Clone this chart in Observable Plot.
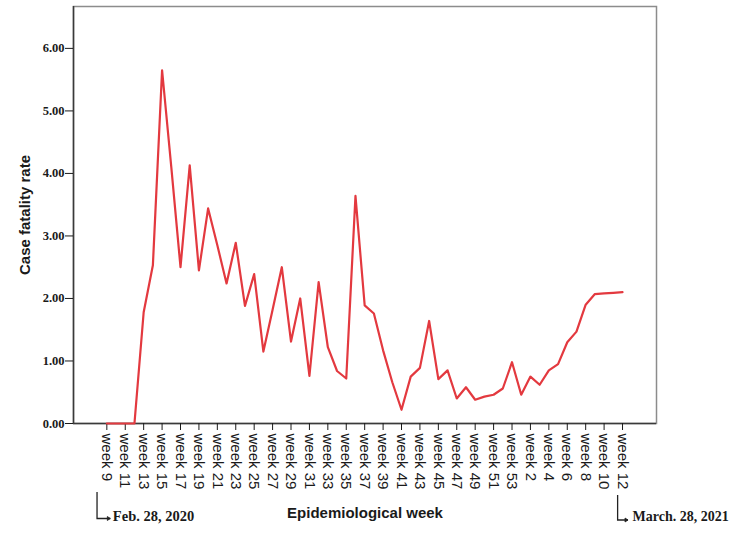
<!DOCTYPE html>
<html><head><meta charset="utf-8">
<script src="https://cdn.jsdelivr.net/npm/d3@7"></script>
<script src="https://cdn.jsdelivr.net/npm/@observablehq/plot@0.6"></script>
<style>body{margin:0;background:#fff}</style>
</head><body><div id="chart"></div>
<script>
const weekLabels = [
  "week 9","week 10","week 11","week 12","week 13","week 14","week 15","week 16","week 17","week 18",
  "week 19","week 20","week 21","week 22","week 23","week 24","week 25","week 26","week 27","week 28",
  "week 29","week 30","week 31","week 32","week 33","week 34","week 35","week 36","week 37","week 38",
  "week 39","week 40","week 41","week 42","week 43","week 44","week 45","week 46","week 47","week 48",
  "week 49","week 50","week 51","week 52","week 53",
  "week 1","week 2","week 3","week 4","week 5","week 6","week 7","week 8","week 9","week 10","week 11","week 12"
];
const cfr = [
  0, 0, 0, 0, 1.78, 2.53, 5.65, 4.10, 2.50, 4.13,
  2.45, 3.44, 2.85, 2.24, 2.89, 1.88, 2.39, 1.15, 1.82, 2.50,
  1.31, 2.00, 0.76, 2.26, 1.22, 0.84, 0.72, 3.64, 1.89, 1.76,
  1.17, 0.66, 0.22, 0.75, 0.89, 1.64, 0.71, 0.85, 0.40, 0.58,
  0.38, 0.43, 0.46, 0.56, 0.98,
  0.46, 0.75, 0.62, 0.85, 0.95, 1.30, 1.47, 1.90, 2.07, 2.08, 2.09, 2.10
];
const yTicks = [0, 1, 2, 3, 4, 5, 6];
const startLabel = "Feb. 28, 2020";
const endLabel = "March. 28, 2021";
const yTitle = "Case fatality rate";
const xTitle = "Epidemiological week";

const data = weekLabels.map((week, i) => ({i, week, cfr: cfr[i]}));
const xTickIdx = d3.range(0, weekLabels.length, 2);
const lastIdx = weekLabels.length - 1;
const sans = "'Liberation Sans', Arial, sans-serif";
const serif = "'Liberation Serif', 'Times New Roman', serif";
const xDomain = [-3.62, 59.69];

const brackets = (index, scales, values, dims) => {
  const x = scales.x;
  const yb = dims.height - dims.marginBottom;
  const g = d3.create("svg:g").attr("fill", "none").attr("stroke", "#222").attr("stroke-width", 1.3);
  const defs = [
    {xi: 0, off: -9.3, y1: 69, y2: 95.5, end: 4},
    {xi: lastIdx, off: -4.4, y1: 72, y2: 97, end: 6}
  ];
  for (const d of defs) {
    const x0 = x(d.xi) + d.off, x1 = x(d.xi) + d.end;
    g.append("path").attr("d", `M${x0},${yb + d.y1}V${yb + d.y2}H${x1}`);
    g.append("path").attr("d", `M${x1 - 3},${yb + d.y2 - 2}L${x1},${yb + d.y2}L${x1 - 3},${yb + d.y2 + 2}Z`)
      .attr("fill", "#222").attr("stroke-width", 0.8);
  }
  return g.node();
};

const chart = Plot.plot({
  width: 732, height: 537,
  marginLeft: 73, marginRight: 76, marginTop: 6, marginBottom: 114,
  style: {background: "#fff", color: "#1a1a1a", overflow: "visible"},
  x: {type: "linear", domain: xDomain},
  y: {domain: [0, 6.67]},
  marks: [
    Plot.frame({stroke: "#8c8c8c", strokeWidth: 1.5}),
    Plot.ruleY([0], {stroke: "#3a3a3a", strokeWidth: 1.5}),
    Plot.ruleX([xDomain[0]], {stroke: "#3a3a3a", strokeWidth: 1.5}),
    Plot.axisY({ticks: yTicks, tickFormat: d3.format(".2f"), tickSize: 8, tickPadding: 1,
      fontFamily: serif, fontWeight: "bold", fontSize: 12.5, label: null}),
    Plot.axisX({ticks: xTickIdx, tickFormat: i => weekLabels[i], tickRotate: 90, tickSize: 7, tickPadding: 3,
      fontFamily: sans, fontSize: 15, label: null}),
    Plot.line(data, {x: "i", y: "cfr", stroke: "#e3393f", strokeWidth: 2.2}),
    Plot.text([yTitle], {frameAnchor: "left", dx: -48, rotate: -90, textAnchor: "middle", lineAnchor: "middle",
      fontFamily: sans, fontWeight: "bold", fontSize: 15, fill: "#1a1a1a"}),
    Plot.text([xTitle], {frameAnchor: "bottom", dy: 90, textAnchor: "middle", lineAnchor: "middle",
      fontFamily: sans, fontWeight: "bold", fontSize: 15, fill: "#1a1a1a"}),
    Plot.text([{i: 0, t: startLabel}], {x: "i", text: "t", frameAnchor: "bottom", dx: 6, dy: 93,
      textAnchor: "start", lineAnchor: "middle",
      fontFamily: serif, fontWeight: "bold", fontSize: 14.5, fill: "#1a1a1a"}),
    Plot.text([{i: lastIdx, t: endLabel}], {x: "i", text: "t", frameAnchor: "bottom", dx: 10, dy: 93,
      textAnchor: "start", lineAnchor: "middle",
      fontFamily: serif, fontWeight: "bold", fontSize: 14, fill: "#1a1a1a"}),
    brackets
  ]
});
document.getElementById("chart").append(chart);
</script>
</body></html>
